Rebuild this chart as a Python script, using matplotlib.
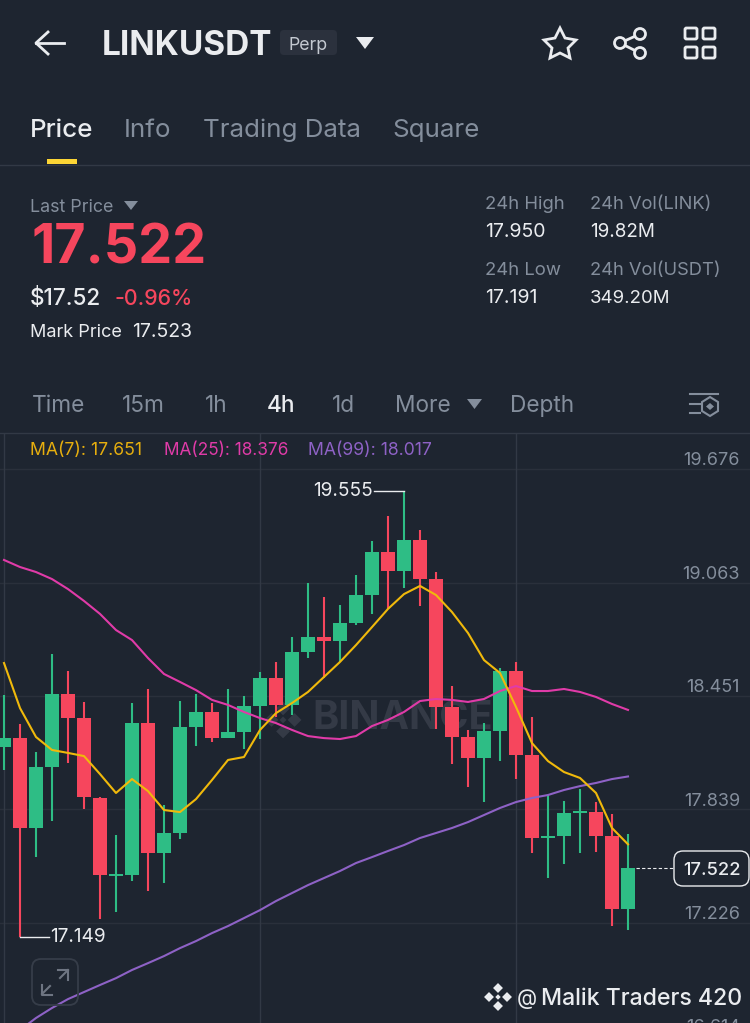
import matplotlib
matplotlib.use("Agg")
import matplotlib.pyplot as plt
from matplotlib.patches import FancyBboxPatch, Polygon, Circle, Rectangle

plt.rcParams["font.family"] = ["Inter", "DejaVu Sans"]

BG = "#1e2530"
GREEN = "#2ebd85"
RED = "#f6465d"
GRID_H = "#2a303b"
GRID_V = "#323945"
GREY = "#848e9c"
WHITE = "#eaecef"
WATERMARK = "#343a46"

# candles, oldest first
opens = [18.176, 18.224, 17.739, 18.068, 18.462, 18.332, 17.901, 17.480, 17.485, 18.305,
         17.604, 17.712, 18.284, 18.365, 18.224, 18.257, 18.397, 18.548, 18.403, 18.689,
         18.769, 18.748, 18.845, 18.996, 19.228, 19.126, 19.293, 19.082, 18.392, 18.230,
         18.117, 18.262, 18.586, 18.133, 17.685, 17.696, 17.820, 17.825, 17.696, 17.302]
closes = [18.224, 17.739, 18.068, 18.462, 18.332, 17.906, 17.485, 17.491, 18.305, 17.604,
          17.712, 18.284, 18.365, 18.224, 18.257, 18.397, 18.548, 18.403, 18.689, 18.769,
          18.748, 18.845, 18.996, 19.228, 19.126, 19.293, 19.082, 18.392, 18.230, 18.117,
          18.262, 18.586, 18.133, 17.685, 17.696, 17.820, 17.831, 17.696, 17.302, 17.522]
highs = [18.457, 18.300, 18.149, 18.678, 18.586, 18.419, 17.906, 17.701, 18.413, 18.489,
         17.863, 18.424, 18.462, 18.413, 18.489, 18.451, 18.581, 18.635, 18.769, 19.061,
         18.985, 18.942, 19.104, 19.287, 19.422, 19.555, 19.347, 19.120, 18.505, 18.268,
         18.305, 18.600, 18.635, 18.338, 17.917, 17.885, 17.949, 17.879, 17.814, 17.706]
lows = [18.052, 17.149, 17.582, 17.777, 18.090, 17.841, 17.248, 17.286, 17.453, 17.399,
        17.442, 17.679, 18.181, 18.203, 18.224, 18.165, 18.219, 18.338, 18.349, 18.656,
        18.548, 18.635, 18.834, 18.894, 18.921, 19.034, 18.937, 18.273, 18.084, 17.960,
        17.879, 18.100, 18.003, 17.604, 17.469, 17.545, 17.604, 17.609, 17.210, 17.188]

ma7 = [18.629, 18.386, 18.230, 18.160, 18.144, 18.127, 18.030, 17.928, 18.003, 17.938,
       17.836, 17.825, 17.895, 17.998, 18.106, 18.122, 18.268, 18.359, 18.413, 18.473,
       18.554, 18.635, 18.726, 18.823, 18.921, 19.001, 19.045, 18.996, 18.904, 18.791,
       18.645, 18.575, 18.392, 18.197, 18.100, 18.041, 18.009, 17.928, 17.739, 17.651]
ma25 = [19.185, 19.147, 19.120, 19.082, 19.028, 18.964, 18.894, 18.807, 18.753, 18.656,
        18.570, 18.527, 18.483, 18.430, 18.403, 18.365, 18.332, 18.305, 18.268, 18.235,
        18.224, 18.219, 18.235, 18.289, 18.322, 18.365, 18.424, 18.435, 18.430, 18.419,
        18.435, 18.478, 18.505, 18.478, 18.478, 18.489, 18.473, 18.446, 18.408, 18.376]
ma99 = [16.584, 16.649, 16.714, 16.768, 16.816, 16.854, 16.892, 16.929, 16.973, 17.010,
        17.048, 17.091, 17.129, 17.172, 17.210, 17.253, 17.296, 17.345, 17.388, 17.431,
        17.469, 17.507, 17.550, 17.582, 17.615, 17.647, 17.685, 17.712, 17.739, 17.771,
        17.809, 17.847, 17.879, 17.901, 17.917, 17.944, 17.965, 17.982, 18.003, 18.017]

price_ticks = [19.676, 19.063, 18.451, 17.839, 17.226, 16.614]
price_labels = ["19.676", "19.063", "18.451", "17.839", "17.226", "16.614"]
time_lines = [0, 16, 32]
tabs = ["Price", "Info", "Trading Data", "Square"]
tab_x = [30, 124, 203, 392]
intervals = ["Time", "15m", "1h", "4h", "1d", "More", "Depth"]
interval_x = [32, 122, 205, 267, 332, 395, 510]
last_price = 17.522


def logo(ax, cx, cy, sx, sy, col, d=0.5):
    # binance mark, four diamonds round a middle one
    for dx, dy in [(0, -1), (-1, 0), (1, 0), (0, 1)]:
        x0 = cx + dx * sx
        y0 = cy + dy * sy
        ax.add_patch(Polygon([(x0, y0 - sy * d), (x0 + sx * d, y0), (x0, y0 + sy * d), (x0 - sx * d, y0)],
                             color=col, lw=0, zorder=2))
    ax.add_patch(Polygon([(cx, cy - sy * 0.3), (cx + sx * 0.3, cy), (cx, cy + sy * 0.3), (cx - sx * 0.3, cy)],
                         color=col, lw=0, zorder=2))


def draw_chart(fig):
    ax = fig.add_axes([0, 0, 1, 590 / 1023])
    ax.set_facecolor(BG)
    ax.set_xlim(-0.25, 46.625)
    ax.set_ylim(16.687, 19.870)
    ax.axis("off")
    for p in price_ticks:
        ax.axhline(p, color=GRID_H, lw=1, zorder=1)
    for t in time_lines:
        ax.axvline(t, color=GRID_V, lw=1, zorder=1)

    ax.text(19.25, 18.328, "BINANCE", color=WATERMARK, fontsize=28.5, fontweight="bold", va="center", zorder=2)
    logo(ax, 17.44, 18.322, 0.72, 0.062, WATERMARK, d=0.6)

    for i in range(len(opens)):
        col = GREEN if closes[i] >= opens[i] else RED
        ax.vlines(i, lows[i], highs[i], color=col, lw=1.5, zorder=3)
        low = min(opens[i], closes[i])
        ax.bar(i, abs(closes[i] - opens[i]), bottom=low, width=0.86, color=col, zorder=3)
    xs = range(len(ma7))
    ax.plot(xs, ma99, color="#8e62c6", lw=1.5, zorder=4)
    ax.plot(xs, ma25, color="#e03ba8", lw=1.5, zorder=4)
    ax.plot(xs, ma7, color="#f0b90b", lw=1.5, zorder=4)

    ax.plot([1, 2.8], [lows[1], lows[1]], color=WHITE, lw=1, zorder=4)
    ax.text(2.9, lows[1], "17.149", color=WHITE, fontsize=13.7, va="center", zorder=5)
    ax.plot([23.1, 25], [highs[25], highs[25]], color=WHITE, lw=1, zorder=4)
    ax.text(23.06, highs[25], "19.555", color=WHITE, fontsize=13.7, va="center", ha="right", zorder=5)
    ax.plot([39.5, 42.0], [last_price, last_price], color=WHITE, lw=0.8, ls=(0, (3, 2)), zorder=4)
    return ax


def draw_ui(ui):
    ui.set_xlim(0, 750)
    ui.set_ylim(1023, 0)
    ui.axis("off")
    ui.patch.set_alpha(0)

    # back arrow
    ui.plot([36, 64], [43, 43], color=WHITE, lw=2)
    ui.plot([48, 36, 48], [32, 43, 54], color=WHITE, lw=2)
    ui.text(102, 55, "LINKUSDT", color=WHITE, fontsize=24, fontweight="bold")
    ui.add_patch(FancyBboxPatch((280, 30), 57, 25, boxstyle="round,pad=0,rounding_size=4", fc="#2b313d", ec="none"))
    ui.text(288, 50, "Perp", color="#c4c9d1", fontsize=12.8)
    ui.add_patch(Polygon([(356, 37), (374, 37), (365, 49)], color=WHITE, lw=0))

    # star
    ui.add_patch(Polygon([(560, 28), (565, 38), (576, 40), (568, 48), (570, 58), (560, 53),
                          (550, 58), (552, 48), (544, 40), (555, 38)], fc="none", ec=WHITE, lw=2))
    # share
    ui.plot([640, 620, 640], [34, 43, 53], color=WHITE, lw=2)
    for cx, cy in [(640, 34), (620, 43), (640, 53)]:
        ui.add_patch(Circle((cx, cy), 5.5, fc=BG, ec=WHITE, lw=2, zorder=3))
    # grid icon
    for x0 in [685, 703]:
        for y0 in [28, 47]:
            ui.add_patch(FancyBboxPatch((x0, y0), 12, 11, boxstyle="round,pad=0,rounding_size=1.5",
                                        fc="none", ec=WHITE, lw=2))

    for i, t in enumerate(tabs):
        ui.text(tab_x[i], 137, t, color=WHITE if i == 0 else GREY, fontsize=18.7,
                fontweight="medium" if i == 0 else "normal")
    ui.add_patch(Rectangle((47, 159), 30, 5, color="#fcd535", lw=0))
    ui.plot([0, 750], [164.5, 164.5], color=GRID_V, lw=1)

    ui.text(30, 212, "Last Price", color=GREY, fontsize=12.9)
    ui.add_patch(Polygon([(124, 201), (138, 201), (131, 210)], color=GREY, lw=0))
    ui.text(31, 264, "17.522", color=RED, fontsize=38.8, fontweight="bold")
    ui.text(30, 305, "$17.52", color=WHITE, fontsize=16.2, fontweight="medium")
    ui.text(114, 305, "-0.96%", color=RED, fontsize=15.4, fontweight="medium")
    ui.text(30, 337, "Mark Price", color=WHITE, fontsize=13)
    ui.text(132, 337, "17.523", color=WHITE, fontsize=14)

    ui.text(485, 209, "24h High", color=GREY, fontsize=13.3)
    ui.text(590, 209, "24h Vol(LINK)", color=GREY, fontsize=13.2)
    ui.text(485, 237, "17.950", color=WHITE, fontsize=14)
    ui.text(590, 237, "19.82M", color=WHITE, fontsize=13.6)
    ui.text(485, 275, "24h Low", color=GREY, fontsize=13.3)
    ui.text(590, 275, "24h Vol(USDT)", color=GREY, fontsize=13.2)
    ui.text(485, 303, "17.191", color=WHITE, fontsize=14)
    ui.text(590, 303, "349.20M", color=WHITE, fontsize=13.4)

    for i, t in enumerate(intervals):
        ui.text(interval_x[i], 412, t, color=WHITE if t == "4h" else GREY, fontsize=16.3,
                fontweight="medium" if t == "4h" else "normal")
    ui.add_patch(Polygon([(467, 399), (482, 399), (474.5, 409)], color=GREY, lw=0))
    # chart settings icon
    ui.plot([690, 718], [394, 394], color=GREY, lw=1.5)
    ui.plot([690, 700], [404, 404], color=GREY, lw=1.5)
    ui.plot([690, 700], [413, 413], color=GREY, lw=1.5)
    ui.add_patch(Polygon([(710, 397), (718, 402), (718, 411), (710, 416), (702, 411), (702, 402)],
                         fc="none", ec=GREY, lw=1.5))
    ui.add_patch(Polygon([(710, 403), (714, 406.5), (710, 410), (706, 406.5)], color=GREY, lw=0))
    ui.plot([0, 750], [432.5, 432.5], color=GRID_V, lw=1)

    ui.text(30, 455, "MA(7): 17.651", color="#e6ae0e", fontsize=12.7)
    ui.text(164, 455, "MA(25): 18.376", color="#e03ba8", fontsize=12.4)
    ui.text(308, 455, "MA(99): 18.017", color="#8e62c6", fontsize=12.7)

    for lab, base in zip(price_labels, [465, 579, 692, 806, 919, 1032]):
        ui.text(740, base, lab, color=GREY, fontsize=13, ha="right")

    # current price tag
    ui.add_patch(FancyBboxPatch((674, 851), 75, 35, boxstyle="round,pad=0,rounding_size=9",
                                fc=BG, ec=WHITE, lw=1))
    ui.text(712, 875, "17.522", color=WHITE, fontsize=13.2, ha="center", fontweight="medium")

    # expand button
    ui.add_patch(FancyBboxPatch((32, 959), 46, 46, boxstyle="round,pad=0,rounding_size=9",
                                fc="none", ec="#363d49", lw=1.3))
    for a, b, c in [((42, 994), (50, 986), [(42, 985), (42, 995), (52, 995)]),
                    ((68, 970), (60, 978), [(58, 970), (68, 970), (68, 980)])]:
        ui.plot([a[0], b[0]], [a[1], b[1]], color="#6e7582", lw=1.5)
        ui.plot([p[0] for p in c], [p[1] for p in c], color="#6e7582", lw=1.5)

    logo(ui, 498, 997, 9, 9, WHITE, d=0.55)
    ui.text(517, 1005, "@", color=WHITE, fontsize=15)
    ui.text(541, 1005, "Malik Traders 420", color=WHITE, fontsize=16.6, fontweight="medium")


def main():
    fig = plt.figure(figsize=(7.5, 10.23), dpi=100, facecolor=BG)
    draw_chart(fig)
    ui = fig.add_axes([0, 0, 1, 1], zorder=5)
    draw_ui(ui)
    fig.savefig("out.png", dpi=100, facecolor=BG)


if __name__ == "__main__":
    main()
